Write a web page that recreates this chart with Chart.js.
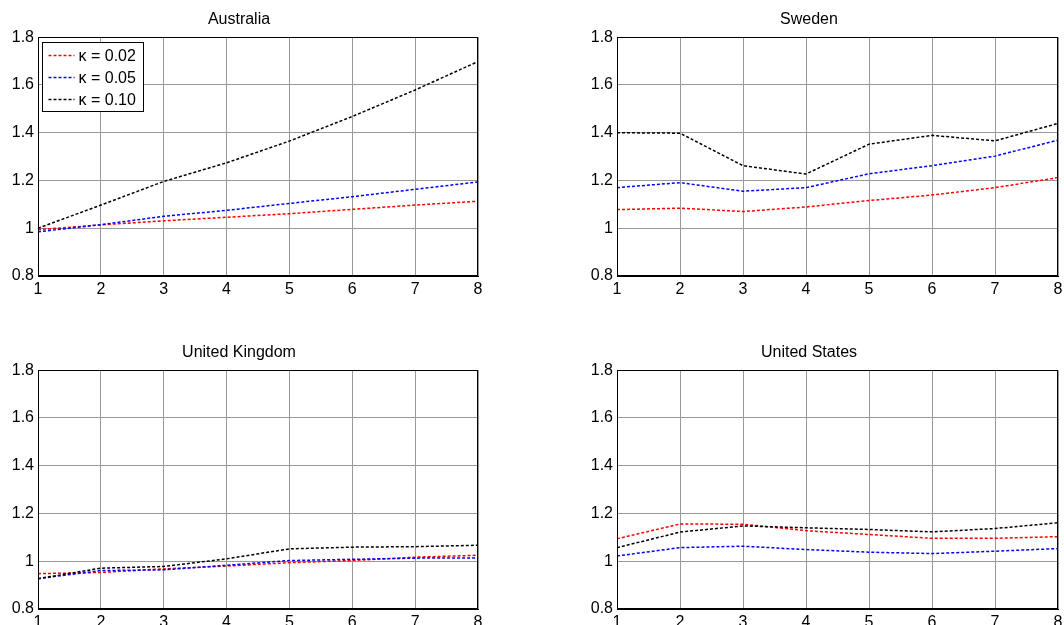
<!DOCTYPE html>
<html>
<head>
<meta charset="utf-8">
<script src="https://cdn.jsdelivr.net/npm/chart.js@4.4.1/dist/chart.umd.min.js"></script>
<style>
  html, body { margin: 0; padding: 0; background: #fff; overflow: hidden; }
  body { width: 1064px; height: 625px; position: relative; }
  .panel { position: absolute; height: 300px; }
</style>
</head>
<body>
<div class="panel" style="left:0;top:0;width:490px"><canvas id="c-aus"></canvas></div>
<div class="panel" style="left:560px;top:0;width:504px"><canvas id="c-swe"></canvas></div>
<div class="panel" style="left:0;top:333px;width:490px"><canvas id="c-uk"></canvas></div>
<div class="panel" style="left:560px;top:333px;width:504px"><canvas id="c-us"></canvas></div>
<script>
const X_LABELS = [1, 2, 3, 4, 5, 6, 7, 8];
const Y_TICKS = [0.8, 1, 1.2, 1.4, 1.6, 1.8];
const KAPPA_LABELS = ["\u03ba = 0.02", "\u03ba = 0.05", "\u03ba = 0.10"];
const COLORS = ["#ff0000", "#0000ff", "#000000"];

const AUS_K02 = [0.994, 1.014, 1.031, 1.046, 1.061, 1.079, 1.097, 1.113];
const AUS_K05 = [0.985, 1.015, 1.050, 1.075, 1.104, 1.132, 1.163, 1.194];
const AUS_K10 = [1.000, 1.097, 1.196, 1.274, 1.365, 1.468, 1.579, 1.698];

const SWE_K02 = [1.078, 1.084, 1.070, 1.089, 1.116, 1.139, 1.170, 1.212];
const SWE_K05 = [1.170, 1.191, 1.155, 1.170, 1.228, 1.262, 1.302, 1.369];
const SWE_K10 = [1.400, 1.398, 1.262, 1.227, 1.352, 1.389, 1.366, 1.439];

const UK_K02 = [0.948, 0.953, 0.968, 0.980, 0.994, 1.003, 1.017, 1.025];
const UK_K05 = [0.927, 0.961, 0.964, 0.983, 1.003, 1.008, 1.013, 1.014];
const UK_K10 = [0.927, 0.971, 0.978, 1.010, 1.052, 1.059, 1.061, 1.067];

const US_K02 = [1.094, 1.156, 1.155, 1.128, 1.112, 1.096, 1.096, 1.103];
const US_K05 = [1.022, 1.057, 1.063, 1.049, 1.038, 1.032, 1.042, 1.053];
const US_K10 = [1.057, 1.122, 1.148, 1.140, 1.133, 1.123, 1.137, 1.161];

const FONT = { family: "'Liberation Sans', Arial, sans-serif", size: 16 };
const GRID = "#999999";
const DASH = [3, 2];
const LINE_W = 1.5;

// black box round the axes, like matlab "box on"
const framePlugin = {
  id: "frame",
  afterDraw(chart) {
    const { ctx, chartArea: a } = chart;
    ctx.save();
    ctx.strokeStyle = "#000";
    ctx.lineWidth = 1;
    ctx.strokeRect(Math.round(a.left) + 0.5, Math.round(a.top) + 0.5,
      Math.round(a.right - a.left) - 1, Math.round(a.bottom - a.top) - 1);
    ctx.restore();
  }
};

// legend drawn inside the plot, top-left corner
const boxLegend = {
  id: "boxLegend",
  afterDraw(chart, args, opts) {
    if (!opts.show) return;
    const { ctx, chartArea: a } = chart;
    const x = Math.round(a.left) + 4.5, y = Math.round(a.top) + 5.5;
    const w = 101, rowH = 22;
    ctx.save();
    ctx.fillStyle = "#fff";
    ctx.fillRect(x, y, w, 69);
    ctx.strokeStyle = "#000";
    ctx.lineWidth = 1;
    ctx.strokeRect(x, y, w, 69);
    ctx.font = `${FONT.size}px ${FONT.family}`;
    ctx.textBaseline = "middle";
    KAPPA_LABELS.forEach((lab, i) => {
      const cy = y + 13 + i * rowH;
      ctx.beginPath();
      ctx.setLineDash(DASH);
      ctx.strokeStyle = COLORS[i];
      ctx.lineWidth = LINE_W;
      ctx.moveTo(x + 6, cy);
      ctx.lineTo(x + 32, cy);
      ctx.stroke();
      ctx.setLineDash([]);
      ctx.fillStyle = "#000";
      ctx.fillText(lab, x + 36, cy + 1);
    });
    ctx.restore();
  }
};

function makePanel(id, title, series, yWidth, padRight, showLegend) {
  const datasets = series.map((data, i) => ({
    label: KAPPA_LABELS[i],
    data: data,
    borderColor: COLORS[i],
    backgroundColor: COLORS[i],
    borderWidth: LINE_W,
    borderDash: DASH,
    pointRadius: 0,
    tension: 0,
    fill: false,
    order: 3 - i
  }));
  return new Chart(document.getElementById(id), {
    type: "line",
    data: { labels: X_LABELS, datasets: datasets },
    plugins: [framePlugin, boxLegend],
    options: {
      responsive: true,
      maintainAspectRatio: false,
      animation: false,
      layout: { padding: { left: 0, right: padRight, top: 0, bottom: 0 } },
      plugins: {
        legend: { display: false },
        tooltip: { enabled: false },
        title: {
          display: true,
          text: title,
          color: "#000",
          font: { family: FONT.family, size: FONT.size, weight: "normal" },
          padding: { top: 10, bottom: 8 }
        },
        boxLegend: { show: !!showLegend }
      },
      scales: {
        x: {
          offset: false,
          grid: { color: GRID, drawTicks: false },
          border: { color: "#000" },
          ticks: { color: "#000", font: FONT, padding: 4, autoSkip: false, maxRotation: 0 },
          afterFit: (s) => { s.height = 24; s.paddingLeft = 0; s.paddingRight = 0; }
        },
        y: {
          min: 0.8,
          max: 1.8,
          grid: { color: GRID, drawTicks: false },
          border: { color: "#000" },
          afterBuildTicks: (s) => { s.ticks = Y_TICKS.map(v => ({ value: v })); },
          ticks: { color: "#000", font: FONT, padding: 4, callback: (v) => String(v) },
          afterFit: (s) => { s.width = yWidth; s.paddingTop = 0; s.paddingBottom = 0; }
        }
      }
    }
  });
}

makePanel("c-aus", "Australia", [AUS_K02, AUS_K05, AUS_K10], 38, 12, true);
makePanel("c-swe", "Sweden", [SWE_K02, SWE_K05, SWE_K10], 57, 6, false);
makePanel("c-uk", "United Kingdom", [UK_K02, UK_K05, UK_K10], 38, 12, false);
makePanel("c-us", "United States", [US_K02, US_K05, US_K10], 57, 6, false);
</script>
</body>
</html>
